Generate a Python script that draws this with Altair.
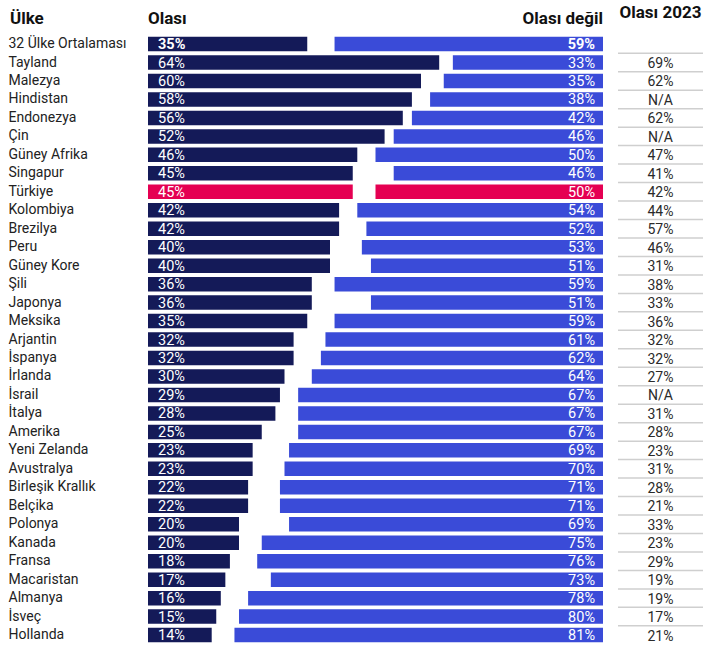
import altair as alt
import pandas as pd

# Survey answers per country: share saying "likely" / "not likely" (%), plus the 2023 "likely" share
countries = [
    "32 Ülke Ortalaması", "Tayland", "Malezya", "Hindistan", "Endonezya", "Çin",
    "Güney Afrika", "Singapur", "Türkiye", "Kolombiya", "Brezilya", "Peru",
    "Güney Kore", "Şili", "Japonya", "Meksika", "Arjantin", "İspanya", "İrlanda",
    "İsrail", "İtalya", "Amerika", "Yeni Zelanda", "Avustralya", "Birleşik Krallık",
    "Belçika", "Polonya", "Kanada", "Fransa", "Macaristan", "Almanya", "İsveç", "Hollanda",
]
likely = [35, 64, 60, 58, 56, 52, 46, 45, 45, 42, 42, 40, 40, 36, 36, 35, 32, 32, 30,
          29, 28, 25, 23, 23, 22, 22, 20, 20, 18, 17, 16, 15, 14]
not_likely = [59, 33, 35, 38, 42, 46, 50, 46, 50, 54, 52, 53, 51, 59, 51, 59, 61, 62, 64,
              67, 67, 67, 69, 70, 71, 71, 69, 75, 76, 73, 78, 80, 81]
likely_2023 = ["", "69%", "62%", "N/A", "62%", "N/A", "47%", "41%", "42%", "44%", "57%",
               "46%", "31%", "38%", "33%", "36%", "32%", "32%", "27%", "N/A", "31%", "28%",
               "23%", "31%", "28%", "21%", "33%", "23%", "29%", "19%", "19%", "17%", "21%"]

df = pd.DataFrame({
    "country": countries,
    "likely": likely,
    "not_likely": not_likely,
    "y2023": likely_2023,
})

NAVY = "#141a58"
BLUE = "#3a4bd8"
RED = "#e50052"
FONT = "Roboto"

W = 455
H = 609.5

y_axis = alt.Axis(
    title=None, domain=False, ticks=False, grid=False,
    labelAlign="left", labelPadding=140, labelFont=FONT,
    labelFontSize=14, labelColor="#222222", labelBaseline="middle",
)
y_scale = alt.Scale(paddingInner=0, paddingOuter=0)
y_enc = alt.Y("country:N", sort=countries, scale=y_scale, axis=y_axis)
x_scale = alt.Scale(domain=[0, 100], nice=False, zero=True)
is_tr = alt.datum.country == "Türkiye"

base = alt.Chart(df)

bars_likely = base.mark_bar(height=14.5).encode(
    y=y_enc,
    x=alt.X("likely:Q", scale=x_scale, axis=None),
    color=alt.condition(is_tr, alt.value(RED), alt.value(NAVY)),
)

bars_not = base.transform_calculate(
    start="100 - datum.not_likely", end="100"
).mark_bar(height=14.5).encode(
    y=y_enc,
    x=alt.X("start:Q", scale=x_scale, axis=None),
    x2="end:Q",
    color=alt.condition(is_tr, alt.value(RED), alt.value(BLUE)),
)

lab = base.transform_calculate(
    lt="datum.likely + '%'", nt="datum.not_likely + '%'"
)
first = alt.datum.country == countries[0]
rest = alt.datum.country != countries[0]

txt_likely = lab.transform_filter(rest).mark_text(
    align="left", baseline="middle", dy=1, font=FONT, fontSize=14.5, color="white"
).encode(y=y_enc, x=alt.value(10), text="lt:N")
txt_likely_avg = lab.transform_filter(first).mark_text(
    align="left", baseline="middle", dy=1, font=FONT, fontSize=14.5,
    fontWeight="bold", color="white"
).encode(y=y_enc, x=alt.value(10), text="lt:N")

txt_not = lab.transform_filter(rest).mark_text(
    align="right", baseline="middle", dy=1, font=FONT, fontSize=14.5, color="white"
).encode(y=y_enc, x=alt.value(W - 8), text="nt:N")
txt_not_avg = lab.transform_filter(first).mark_text(
    align="right", baseline="middle", dy=1, font=FONT, fontSize=14.5,
    fontWeight="bold", color="white"
).encode(y=y_enc, x=alt.value(W - 8), text="nt:N")

# 2023 column: separator line above each row and the value centred below it
sep = base.transform_filter(rest).mark_rule(color="#cfcfcf", strokeWidth=1.5).encode(
    y=alt.Y("country:N", sort=countries, bandPosition=0, scale=y_scale, axis=y_axis),
    x=alt.value(470),
    x2=alt.value(555),
)
txt_2023 = base.transform_filter(rest).mark_text(
    align="center", baseline="middle", dy=1.5, font=FONT, fontSize=14, color="#2a2a2a"
).encode(y=y_enc, x=alt.value(512.5), text="y2023:N")

one = alt.Data(values=[{"k": 1}])


def header(text, x, y, align):
    return alt.Chart(one).mark_text(
        text=text, align=align, baseline="alphabetic", font=FONT,
        fontSize=17, fontWeight="bold", color="#111111"
    ).encode(x=alt.value(x), y=alt.value(y))


headers = [
    header("Ülke", -138, -11, "left"),
    header("Olası", 0, -11, "left"),
    header("Olası değil", W, -11, "right"),
    header("Olası 2023", 512.5, -16.5, "center"),
]

chart = alt.layer(
    bars_likely, bars_not, txt_likely, txt_likely_avg, txt_not, txt_not_avg,
    sep, txt_2023, *headers,
).properties(
    width=W, height=H,
    autosize=alt.AutoSizeParams(type="none"),
    padding={"left": 148, "top": 34.8, "right": 104, "bottom": 6.7},
).configure(background="white").configure_view(stroke=None)

chart.save("out.html", embed_options={"renderer": "svg", "actions": False})
